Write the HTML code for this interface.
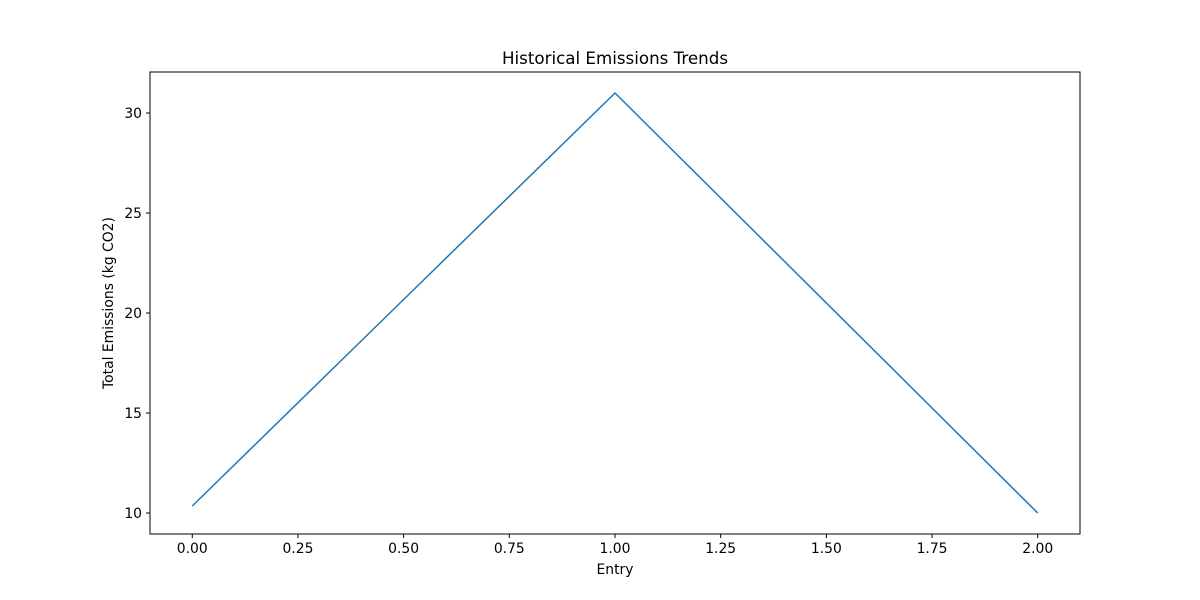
<!DOCTYPE html>
<html><head><meta charset="utf-8"><style>
body{margin:0;background:#fff;}
svg{display:block;font-family:"DejaVu Sans","Liberation Sans",sans-serif;}
</style></head><body>
<svg id="chart" width="1200" height="600">
<rect width="1200" height="600" fill="#fff"/>
<text x="615" y="64" font-size="16.7" text-anchor="middle">Historical Emissions Trends</text>
<g id="xticks"></g>
<g id="yticks"></g>
<path id="line" fill="none" stroke="#1f77b4" stroke-width="1.5"/>
<rect x="150" y="72" width="930" height="462" fill="none" stroke="#000" stroke-width="1"/>
<text x="615" y="574" font-size="13.9" text-anchor="middle">Entry</text>
<text transform="translate(113,303) rotate(-90)" font-size="13.9" text-anchor="middle">Total Emissions (kg CO2)</text>
</svg>
<script>
const entries=[0,1,2];
const emissions=[10.35,31.0,10.0];
const xTickLabels=["0.00","0.25","0.50","0.75","1.00","1.25","1.50","1.75","2.00"];
const yTickLabels=["10","15","20","25","30"];
const L=150,R=1080,T=72,B=534;
const xmin=-0.1,xmax=2.1,ymin=8.95,ymax=32.05;
const sx=v=>L+(v-xmin)/(xmax-xmin)*(R-L);
const sy=v=>B-(v-ymin)/(ymax-ymin)*(B-T);
const NS="http://www.w3.org/2000/svg";
const xg=document.getElementById('xticks'),yg=document.getElementById('yticks');
xTickLabels.forEach(t=>{const x=sx(parseFloat(t));
 const l=document.createElementNS(NS,'line');l.setAttribute('x1',x);l.setAttribute('x2',x);l.setAttribute('y1',B);l.setAttribute('y2',B+4);l.setAttribute('stroke','#000');
 
 
 xg.appendChild(l);
 const s=document.createElementNS(NS,'text');s.setAttribute('x',x);s.setAttribute('y',B+19);s.setAttribute('font-size','13.9');s.setAttribute('text-anchor','middle');s.textContent=t;
 
 
 xg.appendChild(s);});
yTickLabels.forEach(t=>{const y=sy(parseFloat(t));
 const l=document.createElementNS(NS,'line');l.setAttribute('x1',L-4);l.setAttribute('x2',L);l.setAttribute('y1',y);l.setAttribute('y2',y);l.setAttribute('stroke','#000');
 
 
 yg.appendChild(l);
 const s=document.createElementNS(NS,'text');s.setAttribute('x',L-8);s.setAttribute('y',y+5);s.setAttribute('font-size','13.9');s.setAttribute('text-anchor','end');s.textContent=t;
 
 
 yg.appendChild(s);});
document.getElementById('line').setAttribute('d',entries.map((e,i)=>(i?'L':'M')+sx(e)+','+sy(emissions[i])).join(' '));
</script>
</body></html>
